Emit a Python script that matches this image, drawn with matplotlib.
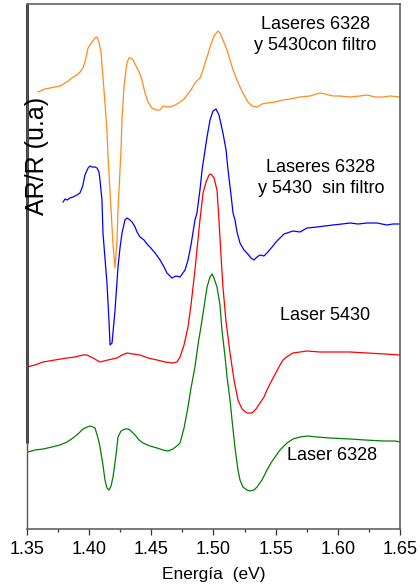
import numpy as np
import matplotlib.pyplot as plt
from matplotlib.ticker import MultipleLocator

plt.rcParams['font.family'] = ['Liberation Sans', 'DejaVu Sans']

# Laseres 6328 y 5430 con filtro
e_con = [1.3588, 1.3645, 1.3685, 1.3725, 1.3765, 1.3822, 1.3862, 1.3902, 1.3926, 1.3950,
         1.3966, 1.3991, 1.4023, 1.4047, 1.4063, 1.4079, 1.4095, 1.4111, 1.4127, 1.4143,
         1.4151, 1.4176, 1.4192, 1.4208, 1.4224, 1.4232, 1.4256, 1.4264, 1.4280, 1.4296,
         1.4304, 1.4320, 1.4336, 1.4353, 1.4385, 1.4409, 1.4425, 1.4449, 1.4473, 1.4505,
         1.4538, 1.4570, 1.4594, 1.4634, 1.4674, 1.4706, 1.4731, 1.4763, 1.4787, 1.4819,
         1.4851, 1.4891, 1.4916, 1.4932, 1.4956, 1.4972, 1.5004, 1.5036, 1.5052, 1.5076,
         1.5109, 1.5133, 1.5157, 1.5189, 1.5213, 1.5237, 1.5277, 1.5310, 1.5350, 1.5390,
         1.5430, 1.5495, 1.5559, 1.5615, 1.5696, 1.5776, 1.5857, 1.5897, 1.5961, 1.6017,
         1.6098, 1.6178, 1.6235, 1.6299, 1.6363, 1.6420, 1.6500]
r_con = [437, 440, 441, 442, 443, 447, 451, 454, 457, 461,
         467, 481, 487, 491, 492, 487, 477, 452, 426, 399,
         374, 319, 284, 261, 289, 319, 379, 409, 442, 459,
         466, 471, 471, 469, 461, 455, 449, 436, 427, 421,
         419, 419, 423, 422, 423, 425, 427, 430, 434, 439,
         446, 451, 459, 466, 475, 482, 493, 498, 496, 489,
         479, 469, 459, 449, 442, 436, 427, 423, 422, 425,
         426, 427, 429, 430, 432, 433, 436, 435, 433, 433,
         432, 433, 434, 432, 432, 433, 432]

# Laseres 6328 y 5430 sin filtro
e_sin = [1.3790, 1.3806, 1.3822, 1.3846, 1.3870, 1.3902, 1.3926, 1.3942, 1.3950, 1.3966,
         1.3991, 1.4007, 1.4023, 1.4047, 1.4063, 1.4079, 1.4087, 1.4103, 1.4111, 1.4127,
         1.4143, 1.4159, 1.4168, 1.4184, 1.4208, 1.4232, 1.4248, 1.4264, 1.4288, 1.4304,
         1.4328, 1.4345, 1.4369, 1.4385, 1.4409, 1.4441, 1.4465, 1.4489, 1.4530, 1.4570,
         1.4602, 1.4626, 1.4650, 1.4666, 1.4698, 1.4731, 1.4771, 1.4795, 1.4819, 1.4851,
         1.4867, 1.4891, 1.4908, 1.4932, 1.4948, 1.4972, 1.4996, 1.5020, 1.5044, 1.5076,
         1.5101, 1.5117, 1.5141, 1.5157, 1.5173, 1.5189, 1.5213, 1.5245, 1.5269, 1.5302,
         1.5326, 1.5350, 1.5374, 1.5406, 1.5430, 1.5471, 1.5503, 1.5535, 1.5567, 1.5591,
         1.5639, 1.5696, 1.5752, 1.5832, 1.5897, 1.5961, 1.6033, 1.6098, 1.6162, 1.6235,
         1.6315, 1.6395, 1.6444, 1.6500]
r_sin = [327, 330, 329, 331, 332, 334, 336, 341, 344, 354,
         361, 363, 362, 362, 361, 357, 349, 329, 296, 271,
         246, 209, 184, 186, 219, 262, 281, 296, 309, 311,
         309, 307, 302, 297, 292, 289, 285, 282, 276, 269,
         262, 256, 253, 251, 253, 252, 259, 269, 284, 309,
         316, 339, 359, 379, 392, 409, 418, 420, 414, 396,
         379, 359, 334, 316, 309, 297, 286, 279, 276, 271,
         269, 272, 274, 273, 276, 282, 287, 291, 295, 296,
         298, 297, 301, 302, 303, 304, 305, 306, 305, 306,
         306, 304, 305, 305]

# Laser 5430
e_5430 = [1.3500, 1.3564, 1.3629, 1.3725, 1.3822, 1.3886, 1.3950, 1.3983, 1.4031, 1.4087,
          1.4151, 1.4224, 1.4264, 1.4304, 1.4353, 1.4409, 1.4473, 1.4546, 1.4610, 1.4674,
          1.4706, 1.4731, 1.4763, 1.4795, 1.4819, 1.4851, 1.4875, 1.4891, 1.4916, 1.4940,
          1.4964, 1.4980, 1.5004, 1.5028, 1.5044, 1.5060, 1.5076, 1.5101, 1.5133, 1.5165,
          1.5197, 1.5229, 1.5269, 1.5310, 1.5342, 1.5374, 1.5406, 1.5430, 1.5479, 1.5535,
          1.5559, 1.5599, 1.5639, 1.5696, 1.5752, 1.5857, 1.5961, 1.6098, 1.6235, 1.6379,
          1.6500]
r_5430 = [162, 164, 167, 169, 171, 172, 174, 174, 171, 167,
          169, 171, 174, 176, 175, 174, 171, 169, 167, 166,
          167, 172, 184, 202, 224, 259, 289, 309, 336, 347,
          354, 355, 351, 339, 309, 274, 242, 207, 176, 149,
          129, 120, 116, 116, 120, 126, 132, 139, 151, 164,
          169, 173, 176, 177, 178, 177, 177, 177, 176, 175,
          174]

# Laser 6328
e_6328 = [1.3508, 1.3564, 1.3629, 1.3701, 1.3765, 1.3822, 1.3870, 1.3910, 1.3950, 1.3983,
          1.4007, 1.4031, 1.4047, 1.4071, 1.4087, 1.4111, 1.4127, 1.4143, 1.4159, 1.4176,
          1.4192, 1.4216, 1.4232, 1.4256, 1.4288, 1.4312, 1.4328, 1.4369, 1.4401, 1.4433,
          1.4489, 1.4546, 1.4594, 1.4634, 1.4674, 1.4715, 1.4731, 1.4763, 1.4795, 1.4819,
          1.4851, 1.4875, 1.4908, 1.4932, 1.4948, 1.4972, 1.4988, 1.5004, 1.5028, 1.5052,
          1.5068, 1.5093, 1.5109, 1.5133, 1.5149, 1.5173, 1.5197, 1.5213, 1.5237, 1.5269,
          1.5294, 1.5326, 1.5350, 1.5390, 1.5430, 1.5462, 1.5495, 1.5535, 1.5591, 1.5639,
          1.5696, 1.5760, 1.5832, 1.5937, 1.6098, 1.6219, 1.6363, 1.6460, 1.6500]
r_6328 = [77, 79, 80, 82, 84, 87, 91, 95, 100, 102,
          103, 102, 101, 91, 82, 64, 49, 41, 39, 43,
          52, 74, 92, 98, 100, 100, 99, 94, 89, 86,
          83, 81, 79, 78, 80, 84, 86, 101, 122, 141,
          162, 184, 209, 229, 242, 252, 255, 251, 242, 224,
          199, 172, 152, 129, 109, 81, 59, 49, 42, 39,
          38, 39, 42, 49, 59, 66, 72, 79, 86, 90,
          92, 93, 92, 91, 90, 89, 88, 88, 87]

fig = plt.figure(figsize=(4.2, 5.87), dpi=100)
ax = fig.add_axes([27 / 420, 58 / 587, 373 / 420, 525 / 587])

lw = 0.9
ax.plot(e_con, r_con, '-', color='#ff8c1a', lw=lw)
ax.plot(e_sin, r_sin, '-', color='#0000ff', lw=lw)
ax.plot(e_5430, r_5430, '-', color='#ff0000', lw=lw)
ax.plot(e_6328, r_6328, '-', color='#008000', lw=lw)

ax.set_xlim(1.35, 1.65)
ax.set_ylim(0, 525)
ax.set_yticks([])
ax.xaxis.set_major_locator(MultipleLocator(0.05))
ax.xaxis.set_minor_locator(MultipleLocator(0.025))
ax.set_xticks(np.arange(1.35, 1.651, 0.05))
ax.set_xticklabels(['%.2f' % v for v in np.arange(1.35, 1.651, 0.05)])
ax.tick_params(axis='x', which='major', direction='out', length=4, width=0.9,
               colors='#333333', labelcolor='black', labelsize=13, pad=5)
ax.tick_params(axis='x', which='minor', direction='out', length=2.5, width=0.9,
               colors='#333333')

for s in ['top', 'right', 'bottom']:
    ax.spines[s].set_color('#555555')
    ax.spines[s].set_linewidth(1.1)
ax.spines['left'].set_color('#555555')
ax.spines['left'].set_linewidth(1.0)
# tramo grueso del eje izquierdo
ax.plot([0, 0], [0.164, 1], color='black', lw=1.8, transform=ax.transAxes,
        clip_on=False, solid_capstyle='butt')

ax.set_xlabel('Energía  (eV)', fontsize=12.5, labelpad=6)
fig.text(37 / 420, 1 - 156 / 587, 'AR/R (u.a)', rotation=90, fontsize=18,
         ha='center', va='center')

fs = 13
ax.text(1.582, 494, 'Laseres 6328\ny 5430con filtro', ha='center', va='center',
        fontsize=fs, linespacing=1.3)
ax.text(1.5865, 351, 'Laseres 6328\ny 5430  sin filtro', ha='center', va='center',
        fontsize=fs, linespacing=1.3)
ax.text(1.5897, 214, 'Laser 5430', ha='center', va='center', fontsize=fs)
ax.text(1.5953, 74, 'Laser 6328', ha='center', va='center', fontsize=fs)

plt.savefig('out.png', dpi=100)
